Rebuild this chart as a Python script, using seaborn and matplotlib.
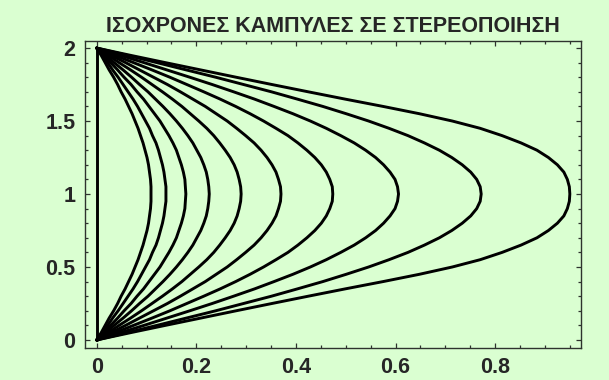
import numpy as np
import pandas as pd
import matplotlib
matplotlib.use("Agg")
import matplotlib.pyplot as plt
import seaborn as sns
from matplotlib.ticker import MultipleLocator

# Heights along the lower half of each isochrone (upper half is its mirror about y = 1)
y_half = [0.00, 0.05, 0.10, 0.15, 0.20, 0.25, 0.30, 0.35, 0.40, 0.45, 0.50,
          0.55, 0.60, 0.65, 0.70, 0.75, 0.80, 0.85, 0.90, 0.95, 1.00]

# Solidification front position x at each height, one list per time step
front_t0 = [0.0] * 21
front_t1 = [0, .009, .017, .025, .034, .042, .049, .057, .064, .071, .077,
            .083, .088, .093, .097, .101, .104, .106, .108, .109, .109]
front_t2 = [0, .011, .022, .032, .043, .053, .063, .073, .082, .090, .098,
            .106, .112, .119, .124, .128, .132, .135, .137, .139, .139]
front_t3 = [0, .014, .028, .042, .055, .069, .081, .094, .105, .116, .127,
            .136, .145, .153, .160, .165, .170, .174, .177, .178, .179]
front_t4 = [0, .018, .035, .053, .070, .086, .103, .118, .133, .147, .160,
            .172, .183, .193, .201, .209, .215, .220, .223, .225, .226]
front_t5 = [0, .023, .045, .068, .090, .111, .132, .152, .171, .188, .205,
            .221, .235, .247, .258, .268, .276, .282, .286, .289, .290]
front_t6 = [0, .029, .058, .086, .114, .142, .168, .193, .218, .240, .262,
            .281, .299, .316, .330, .342, .352, .360, .365, .369, .370]
front_t7 = [0, .037, .074, .111, .147, .181, .215, .248, .279, .308, .335,
            .360, .384, .404, .422, .438, .451, .461, .468, .473, .474]
front_t8 = [0, .048, .095, .141, .187, .232, .275, .317, .356, .394, .429,
            .461, .490, .517, .540, .560, .576, .589, .599, .604, .606]
front_t9 = [0, .061, .121, .180, .239, .295, .351, .403, .454, .501, .546,
            .587, .625, .658, .688, .713, .734, .751, .763, .770, .772]
front_t10 = [0, .068, .138, .209, .280, .352, .425, .499, .575, .648, .714,
             .770, .814, .852, .884, .907, .925, .938, .945, .949, .950]

fronts = [front_t0, front_t1, front_t2, front_t3, front_t4, front_t5,
          front_t6, front_t7, front_t8, front_t9, front_t10]

title_text = "ΙΣΟΧΡΟΝΕΣ ΚΑΜΠΥΛΕΣ ΣΕ ΣΤΕΡΕΟΠΟΙΗΣΗ"
x_ticks = [0, 0.2, 0.4, 0.6, 0.8]
x_ticklabels = ["0", "0.2", "0.4", "0.6", "0.8"]
y_ticks = [0, 0.5, 1, 1.5, 2]
y_ticklabels = ["0", "0.5", "1", "1.5", "2"]

# Build a long table: each curve runs from y=0 up to y=2
rows = []
for k, xs in enumerate(fronts):
    ys_full = list(y_half) + [2 - v for v in reversed(y_half[:-1])]
    xs_full = list(xs) + list(reversed(xs[:-1]))
    for order, (xv, yv) in enumerate(zip(xs_full, ys_full)):
        rows.append({"curve": k, "order": order, "x": xv, "y": yv})
df = pd.DataFrame(rows)

bg = "#DAFFD1"
frame_col = "#2e332e"

sns.set_theme(style="ticks")
plt.rcParams["font.family"] = ["Liberation Sans", "DejaVu Sans"]
plt.rcParams["font.weight"] = "bold"

fig = plt.figure(figsize=(6.09, 3.80), dpi=100, facecolor=bg)
ax = fig.add_axes([0.140, 0.085, 0.8145, 0.807])
ax.set_facecolor(bg)

sns.lineplot(data=df, x="x", y="y", units="curve", estimator=None, sort=False,
             color="black", linewidth=2.1, ax=ax, legend=False)

ax.set_xlim(-0.023, 0.973)
ax.set_ylim(-0.053, 2.048)
ax.set_xlabel("")
ax.set_ylabel("")

ax.set_xticks(x_ticks)
ax.set_xticklabels(x_ticklabels)
ax.set_yticks(y_ticks)
ax.set_yticklabels(y_ticklabels)
ax.xaxis.set_minor_locator(MultipleLocator(0.05))
ax.yaxis.set_minor_locator(MultipleLocator(0.1))

ax.tick_params(which="both", direction="in", top=True, right=True,
               color=frame_col, width=0.9)
ax.tick_params(which="major", length=3.5, labelsize=15.5, pad=7)
ax.tick_params(which="minor", length=2.0)
for lab in ax.get_xticklabels() + ax.get_yticklabels():
    lab.set_fontweight("bold")

for sp in ax.spines.values():
    sp.set_color(frame_col)
    sp.set_linewidth(1.0)

ax.set_title(title_text, fontsize=15.5, fontweight="bold", pad=6.5)

fig.savefig("out.png", dpi=100, facecolor=bg)
